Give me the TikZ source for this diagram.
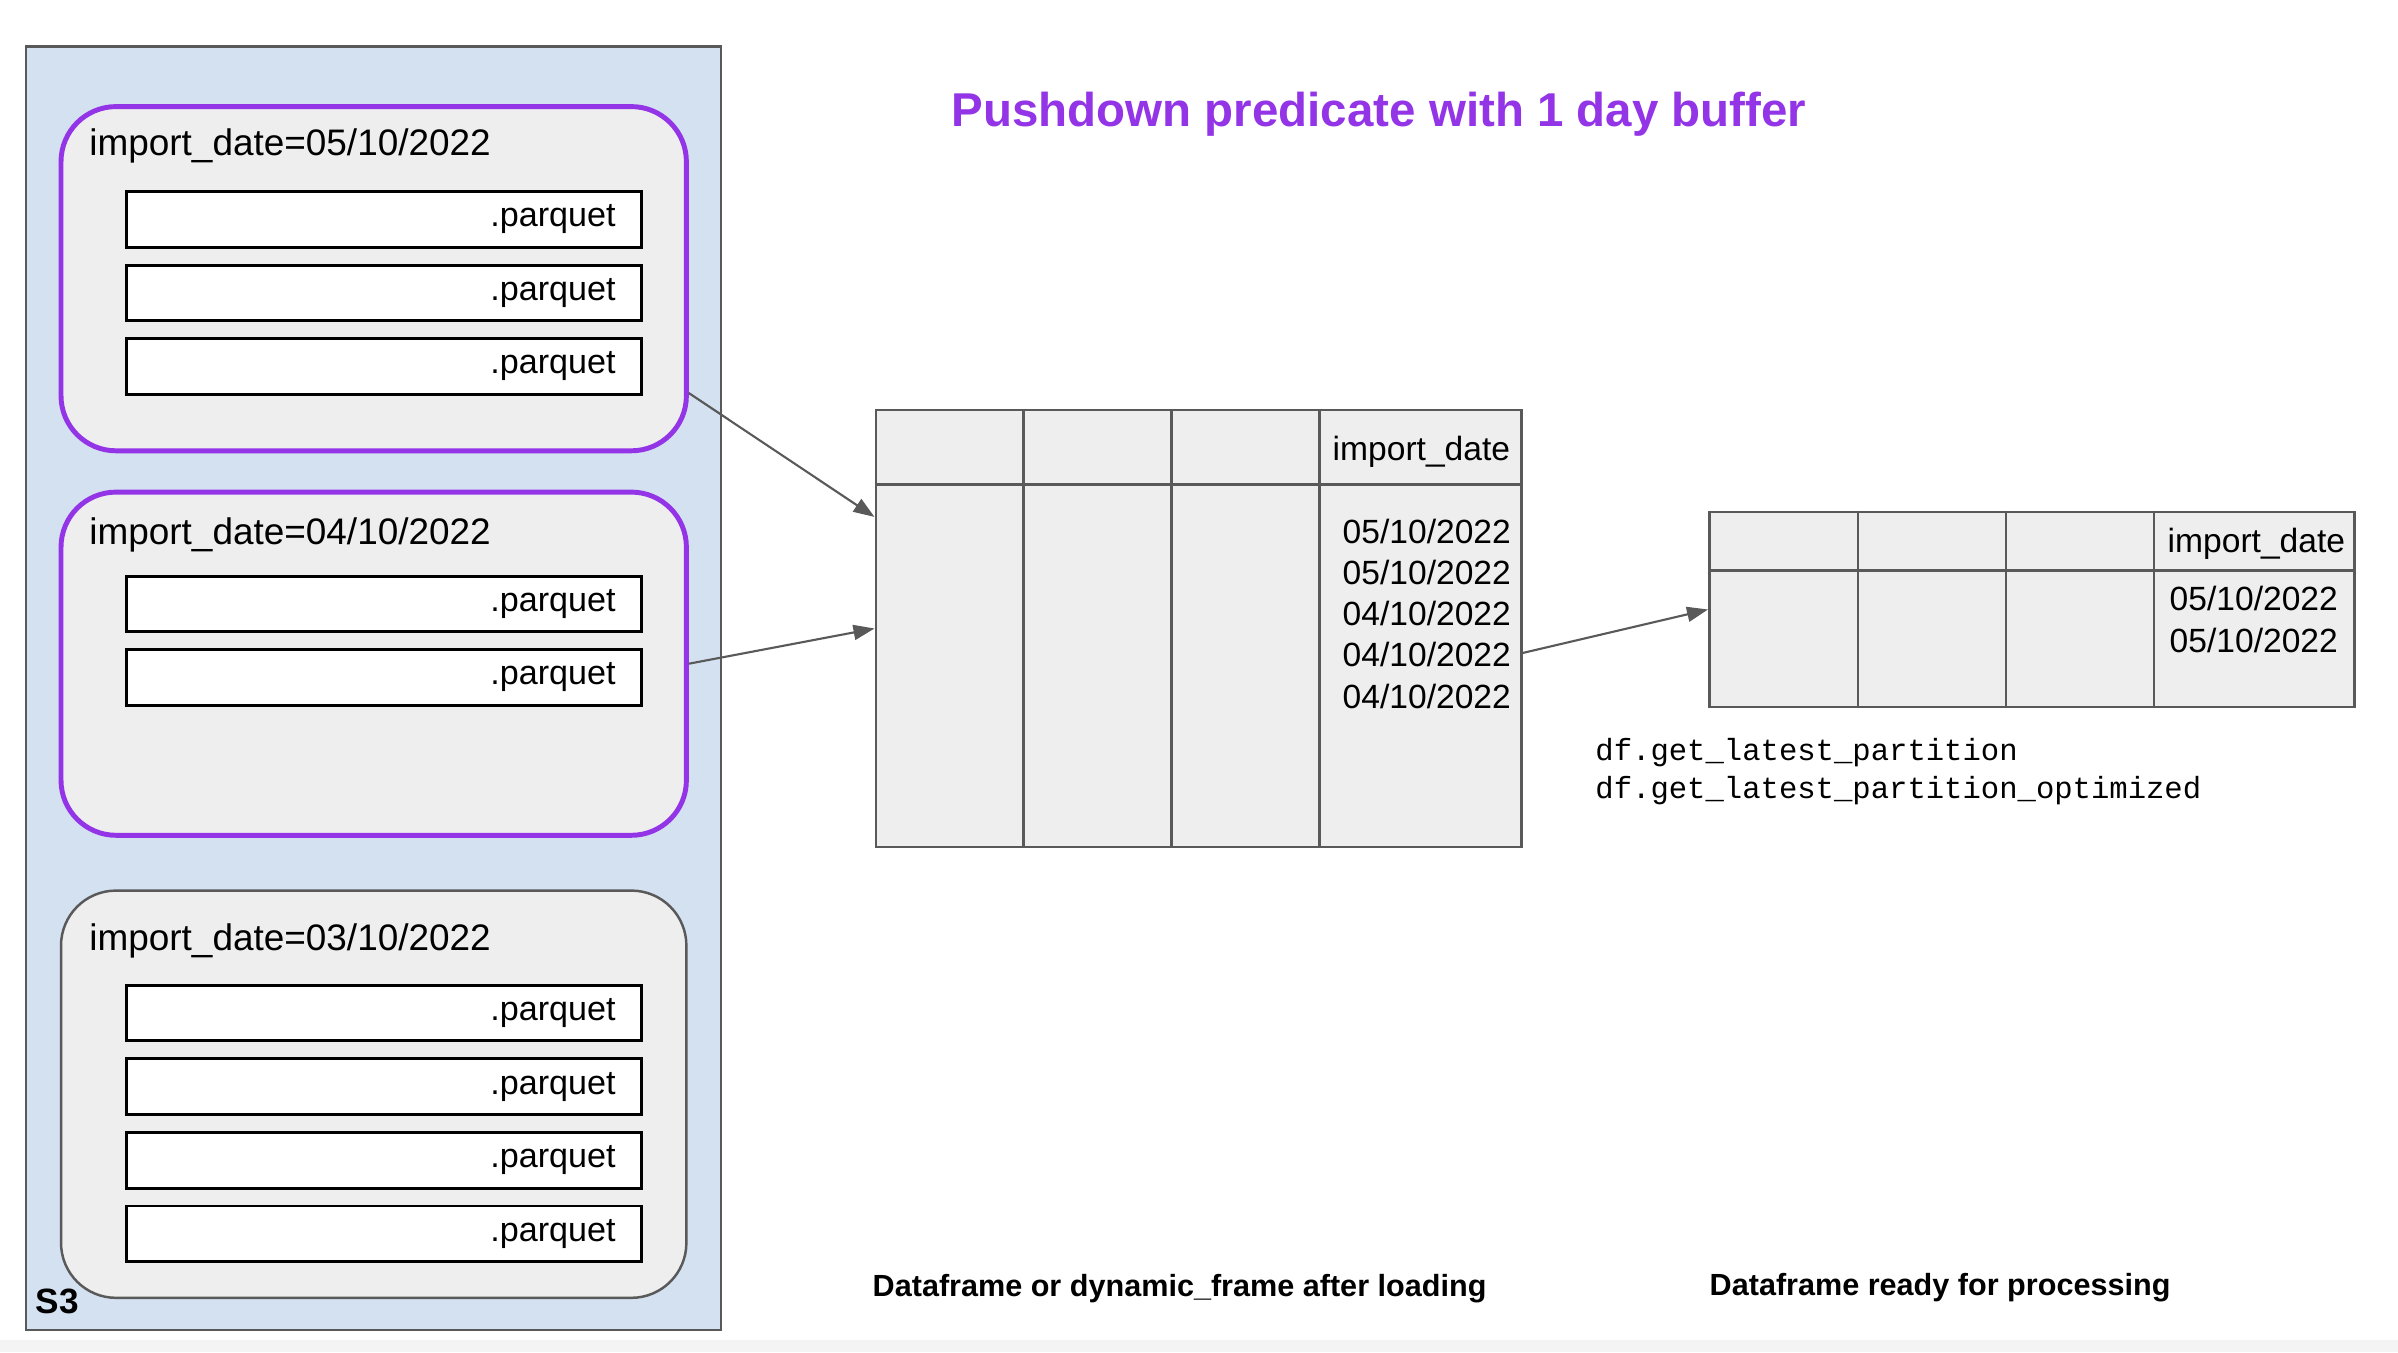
\documentclass[tikz,border=0pt]{standalone}
\usepackage{fontspec}
\setmainfont{Liberation Sans}
\setmonofont{Liberation Mono}
\usetikzlibrary{arrows.meta, positioning, calc}

\definecolor{s3blue}{HTML}{D4E1F1}
\definecolor{partgray}{HTML}{EEEEEE}
\definecolor{linegray}{HTML}{595959}
\definecolor{pushpurple}{HTML}{9334E6}
\definecolor{stripgray}{HTML}{F4F4F4}

\tikzset{
  partbox/.style={draw=linegray, line width=0.7pt, fill=partgray, rounded corners=0.55cm, minimum width=6.25cm},
  activepart/.style={partbox, draw=pushpurple, line width=1.4pt},
  parquetbox/.style={draw=black, line width=0.85pt, fill=white, minimum height=0.556cm, text width=4.63cm, inner xsep=0.26cm, inner ysep=0pt, align=right, font=\fontsize{9.7}{11}\selectfont},
  partlabel/.style={anchor=base west, inner sep=0pt, font=\fontsize{10.5}{12}\selectfont},
  tablebox/.style={draw=linegray, line width=0.75pt, fill=partgray, minimum width=6.45cm},
  tableline/.style={draw=linegray, line width=0.75pt},
  celltext/.style={anchor=base west, inner sep=0pt, align=left, font=\fontsize{9.55}{11.67}\selectfont},
  flow/.style={draw=linegray, line width=0.6pt, -{Triangle[length=0.21cm, width=0.15cm]}},
  caption/.style={anchor=base west, inner sep=0pt, font=\fontsize{8.7}{10}\selectfont\bfseries}
}

\begin{document}
\begin{tikzpicture}[x=0.01cm, y=-0.01cm]
  \useasboundingbox (0,0) rectangle (2398,1352);
  \fill[stripgray] (0,1340) rectangle (2398,1352);

  % S3 bucket
  \node[draw=linegray, line width=0.6pt, fill=s3blue, minimum width=6.94cm, minimum height=12.83cm] (s3) at (373.4, 688.4) {};
  \node[anchor=base west, inner sep=0pt, font=\fontsize{10}{12}\selectfont\bfseries] (s3label) at (35, 1313) {S3};

  % Partition 05/10/2022
  \node[activepart, minimum height=3.44cm] (p05) at (373.7, 278.7) {};
  \node[partlabel] (p05label) at (88.7, 156) {import\_date=05/10/2022};
  \node[parquetbox] (p05a) at (384, 219.5) {.parquet};
  \node[parquetbox] (p05b) at (384, 293) {.parquet};
  \node[parquetbox] (p05c) at (384, 366.2) {.parquet};

  % Partition 04/10/2022
  \node[activepart, minimum height=3.43cm] (p04) at (373.7, 663.7) {};
  \node[partlabel] (p04label) at (88.7, 544.4) {import\_date=04/10/2022};
  \node[parquetbox] (p04a) at (384, 604) {.parquet};
  \node[parquetbox] (p04b) at (384, 677.5) {.parquet};

  % Partition 03/10/2022
  \node[partbox, minimum height=4.07cm] (p03) at (373.7, 1094.2) {};
  \node[partlabel] (p03label) at (88.7, 950) {import\_date=03/10/2022};
  \node[parquetbox] (p03a) at (384, 1013) {.parquet};
  \node[parquetbox] (p03b) at (384, 1086.5) {.parquet};
  \node[parquetbox] (p03c) at (384, 1160.3) {.parquet};
  \node[parquetbox] (p03d) at (384, 1233.8) {.parquet};

  % Title
  \node[anchor=base, inner sep=0pt, text=pushpurple, font=\fontsize{13.5}{16}\selectfont\bfseries] (title) at (1379, 126.7) {Pushdown predicate with 1 day buffer};

  % Dataframe after loading
  \node[tablebox, minimum height=4.37cm] (load) at (1198.5, 628.5) {};
  \draw[tableline] ($(load.north west)+(0,76)$) -- ($(load.north east)+(0,76)$);
  \foreach \cx in {149,297,445}
    \draw[tableline] ($(load.north west)+(\cx,0)$) -- ($(load.south west)+(\cx,0)$);
  \node[celltext] (loadhead) at (1332, 460) {import\_date};
  \node[celltext] (loaddates) at (1342, 708) {05/10/2022\\05/10/2022\\04/10/2022\\04/10/2022\\04/10/2022};
  \node[caption] (loadcap) at (872, 1296.7) {Dataframe or dynamic\_frame after loading};

  % Dataframe ready
  \node[tablebox, minimum height=1.95cm] (ready) at (2032, 609.5) {};
  \draw[tableline] ($(ready.north west)+(0,60)$) -- ($(ready.north east)+(0,60)$);
  \foreach \cx in {150,298,446}
    \draw[tableline] ($(ready.north west)+(\cx,0)$) -- ($(ready.south west)+(\cx,0)$);
  \node[celltext] (readyhead) at (2167, 552) {import\_date};
  \node[celltext] (readydates) at (2169, 652) {05/10/2022\\05/10/2022};
  \node[anchor=base west, inner sep=0pt, align=left, font=\ttfamily\fontsize{8.7}{10.8}\selectfont] (calls) at (1594.7, 798) {df.get\_latest\_partition\\df.get\_latest\_partition\_optimized};
  \node[caption] (readycap) at (1709, 1295) {Dataframe ready for processing};

  % Flow
  \draw[flow] ([yshift=-1.143cm]p05.east) -- ([yshift=1.115cm]load.west);
  \draw[flow] (p04.east) -- (load.west);
  \draw[flow] ([yshift=-0.245cm]load.east) -- (ready.west);
\end{tikzpicture}
\end{document}
